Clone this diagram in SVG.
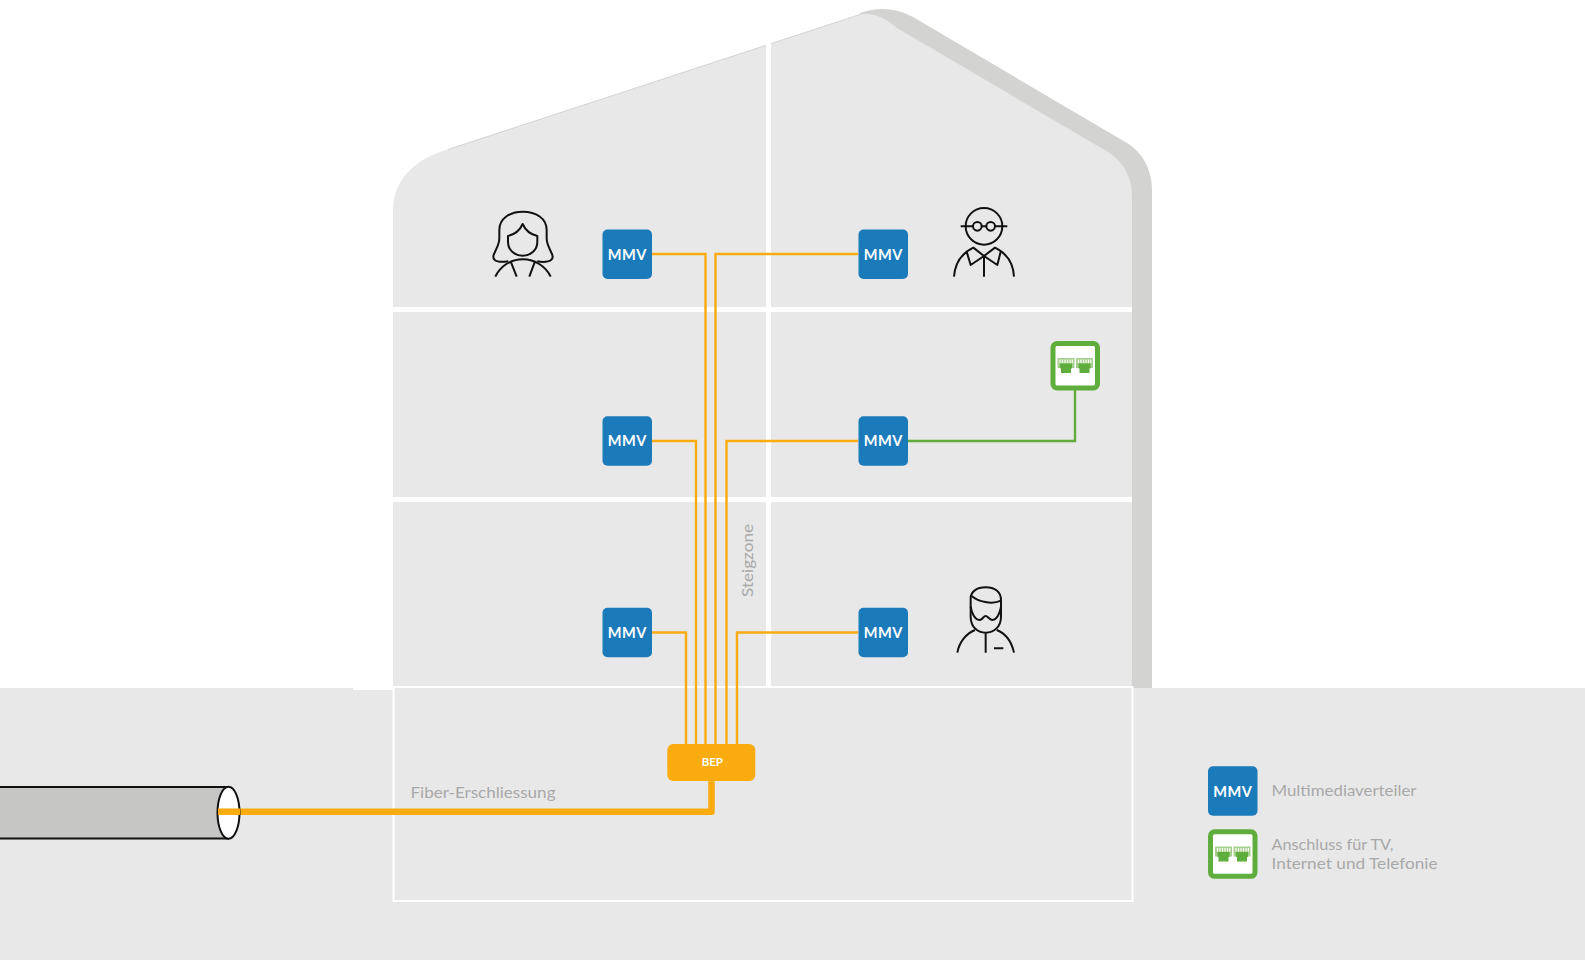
<svg xmlns="http://www.w3.org/2000/svg" width="1585" height="960" viewBox="0 0 1585 960">
<style>
.mmv{fill:#1b7bba}
.mmvt{fill:#fff;font:700 16px Lato,"Liberation Sans",sans-serif;text-anchor:middle;letter-spacing:.5px}
.lab{fill:#a8a8a8;font:15px Lato,"Liberation Sans",sans-serif}
.fib{fill:none;stroke:#f9ab10;stroke-width:2.4}
.grn{fill:none;stroke:#5fad3c;stroke-width:2.4}
.ico{fill:none;stroke:#111;stroke-width:6;stroke-linecap:butt;stroke-linejoin:round}
.band{fill:#fff}
.box{fill:#fff;stroke:#5fad3c;stroke-width:5}
</style>
<defs>
<g id="rj">
<rect x="0" y="0" width="17" height="10" fill="#a5cf8d"/>
<path d="M2.500 1.500V5M5 1.500V5M7.500 1.500V5M10 1.500V5M12.500 1.500V5M14.800 1.500V5" stroke="#fff" stroke-width="1.200" fill="none"/>
<path d="M2.500 10.500V5.500H14.500V10.500H13.500V15H3.500V10.500Z" fill="#5fad3c"/>
</g>
</defs>
<rect width="1585" height="960" fill="#fff"/>
<g id="ground">
<rect y="688" width="1585" height="272" fill="#e8e8e8"/>
<rect x="353" y="687" width="40" height="3" fill="#fff"/>
</g>
<g id="house">
<path d="M860 13C880 6 897 9 913 17L1127 143C1143 153 1152 170 1152 190V688H1132V300L860 17Z" fill="#d3d3d1"/>
<path d="M393 686V210C393 181 414 160 443 151L860 14.500C874 12 887 19 897 28L1108 152C1124 162 1132 178 1132 197V686Z" fill="#e8e8e8"/>
<path d="M448 149.500L860 14.500" fill="none" stroke="#d3d3d1" stroke-width="1"/>
<rect class="band" x="393" y="307" width="739" height="5"/>
<rect class="band" x="393" y="497" width="739" height="5"/>
<rect class="band" x="766" y="40" width="5" height="646"/>
<rect x="393.500" y="687" width="739" height="214" fill="none" stroke="#fff" stroke-width="2"/>
</g>
<g id="connectors">
<path class="fib" d="M652 254H705.500V744"/>
<path class="fib" d="M858 254H715.500V744"/>
<path class="fib" d="M652 441H696V744"/>
<path class="fib" d="M858 441H726.500V744"/>
<path class="fib" d="M652 632.500H686V744"/>
<path class="fib" d="M858 632.500H737V744"/>
<path class="grn" d="M907 441H1075V390"/>
<path d="M217 811.700H711.500V780" fill="none" stroke="#f9ab10" stroke-width="6.500" stroke-linejoin="round"/>
</g>
<g id="cable">
<path d="M-5 787H228V838.500H-5Z" fill="#c6c6c5" stroke="#111" stroke-width="2"/>
<ellipse cx="228.500" cy="812.700" rx="11" ry="26" fill="#fff" stroke="#111" stroke-width="2"/>
<path d="M218 811.700H240" stroke="#f9ab10" stroke-width="6.500"/>
</g>
<g id="mmv-1l"><rect class="mmv" x="602.500" y="229.500" width="49.500" height="49.500" rx="5"/><text class="mmvt" x="627.300" y="259.500" textLength="39" lengthAdjust="spacingAndGlyphs">MMV</text></g>
<g id="mmv-1r"><rect class="mmv" x="858.500" y="229.500" width="49.500" height="49.500" rx="5"/><text class="mmvt" x="883.300" y="259.500" textLength="39" lengthAdjust="spacingAndGlyphs">MMV</text></g>
<g id="mmv-2l"><rect class="mmv" x="602.500" y="416.300" width="49.500" height="49.500" rx="5"/><text class="mmvt" x="627.300" y="446" textLength="39" lengthAdjust="spacingAndGlyphs">MMV</text></g>
<g id="mmv-2r"><rect class="mmv" x="858.500" y="416.300" width="49.500" height="49.500" rx="5"/><text class="mmvt" x="883.300" y="446" textLength="39" lengthAdjust="spacingAndGlyphs">MMV</text></g>
<g id="mmv-3l"><rect class="mmv" x="602.500" y="607.700" width="49.500" height="49.500" rx="5"/><text class="mmvt" x="627.300" y="638" textLength="39" lengthAdjust="spacingAndGlyphs">MMV</text></g>
<g id="mmv-3r"><rect class="mmv" x="858.500" y="607.700" width="49.500" height="49.500" rx="5"/><text class="mmvt" x="883.300" y="638" textLength="39" lengthAdjust="spacingAndGlyphs">MMV</text></g>
<g id="bep"><rect x="667.300" y="744" width="88" height="37" rx="6" fill="#f9ab10"/><text x="712.300" y="766" fill="#fff" font-family="Lato,'Liberation Sans',sans-serif" font-weight="700" font-size="11.500" text-anchor="middle">BEP</text></g>
<g id="socket"><rect class="box" x="1053" y="343.500" width="44.500" height="44.500" rx="4"/><use href="#rj" x="1057.500" y="358"/><use href="#rj" x="1076" y="358"/></g>
<g id="woman" transform="translate(480 200) scale(.3333)">
<path class="ico" d="M85 184C60 188 40 185 40 170C40 158 58 140 58 115V90C58 55 90 35 128 35C168 35 200 55 200 90V115C200 140 218 158 218 170C218 185 195 188 172 184"/>
<path class="ico" d="M128 72C120 90 105 103 84 108V125C84 150 103 167 128 167C153 167 172 150 172 125V108C150 103 136 90 128 72Z"/>
<path class="ico" d="M46 230C60 200 90 178 128 178C166 178 198 200 212 230M92 184L110 230M165 184L148 230"/>
</g>
<g id="man-glasses" transform="translate(940 195) scale(.3333)">
<circle class="ico" cx="132" cy="94" r="55"/>
<circle class="ico" cx="112" cy="94" r="13"/>
<circle class="ico" cx="152" cy="94" r="13"/>
<path class="ico" d="M62 94H99M125 94H139M165 94H202"/>
<path class="ico" d="M42 245C45 205 65 175 100 158L132 183L165 158C200 175 220 205 222 245M80 170L92 210L132 183L172 210L182 170M132 183V245"/>
</g>
<g id="man-beard" transform="translate(920 570) scale(.3333)">
<path class="ico" d="M152 85C152 65 170 52 197 52C224 52 243 65 243 90V140C243 170 222 188 197 188C172 188 152 170 152 140Z"/>
<path class="ico" d="M155 78C175 95 215 105 243 92M152 110C155 130 165 150 178 150C188 150 190 138 197 138C204 138 208 150 218 150C230 150 240 130 243 110"/>
<path class="ico" d="M112 248C118 215 140 190 165 180M282 248C275 215 255 190 230 180M197 190V248M222 235H250"/>
</g>
<g id="labels">
<text class="lab" x="410.500" y="798" textLength="145" lengthAdjust="spacingAndGlyphs">Fiber-Erschliessung</text>
<text class="lab" transform="translate(753 597) rotate(-90)" textLength="73" lengthAdjust="spacingAndGlyphs">Steigzone</text>
</g>
<g id="legend">
<rect class="mmv" x="1208" y="766.300" width="49.500" height="49.500" rx="5"/>
<text class="mmvt" x="1232.800" y="797" textLength="39" lengthAdjust="spacingAndGlyphs">MMV</text>
<text class="lab" x="1271.500" y="796" textLength="145" lengthAdjust="spacingAndGlyphs">Multimediaverteiler</text>
<rect class="box" x="1210.500" y="831.800" width="44.500" height="44.500" rx="4"/>
<use href="#rj" x="1215" y="846.500"/><use href="#rj" x="1233.500" y="846.500"/>
<text class="lab" x="1271.500" y="850" textLength="122" lengthAdjust="spacingAndGlyphs">Anschluss für TV,</text>
<text class="lab" x="1271.500" y="869" textLength="166" lengthAdjust="spacingAndGlyphs">Internet und Telefonie</text>
</g>
</svg>
